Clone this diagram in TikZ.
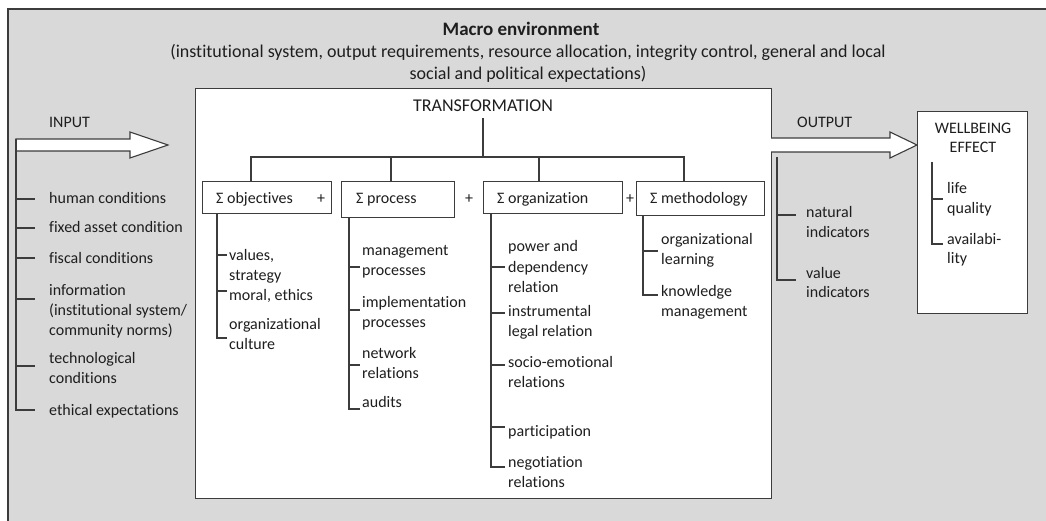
\documentclass[tikz,border=0pt]{standalone}
\usepackage{fontspec}
\setmainfont{Carlito}[Ligatures=NoCommon]
\definecolor{bg}{RGB}{217,217,217}
\definecolor{lc}{RGB}{60,60,60}
\definecolor{tc}{RGB}{30,30,30}
\begin{document}
\begin{tikzpicture}[x=1pt,y=-1pt,
  ln/.style={draw=lc, line width=1.1pt},
  txt/.style={anchor=base west, inner sep=0pt, align=left, font=\fontsize{16}{20}\selectfont, text=tc},
  ctxt/.style={inner sep=0pt, align=center, font=\fontsize{16}{20}\selectfont, text=tc},
  bx/.style={draw=lc, line width=1.1pt, fill=white, anchor=north west, inner sep=0pt},
  barrow/.style={draw=lc, line width=1.1pt, fill=white}]
\useasboundingbox (0,0) rectangle (1046,521);
\clip (0,0) rectangle (1046,521);
\fill[white] (0,0) rectangle (1046,521);
% macro environment
\node[draw=lc, line width=1.6pt, fill=bg, anchor=north west, minimum width=1060pt, minimum height=540pt, inner sep=0pt] (env) at (7,8) {};
\node[inner sep=0pt, font=\bfseries\fontsize{19}{23}\selectfont, text=tc] (title) at (521,29) {Macro environment};
\node[ctxt, font=\fontsize{18}{22}\selectfont] (sub) at (528,63) {(institutional system, output requirements, resource allocation, integrity control, general and local\\social and political expectations)};
% transformation
\node[bx, minimum width=576pt, minimum height=410pt] (tr) at (195,88) {};
\node[ctxt, font=\fontsize{18}{20}\selectfont] (trt) at (483,106) {TRANSFORMATION};
% boxes
\node[bx, minimum width=129pt, minimum height=32pt] (obj) at (202,181) {};
\node[bx, minimum width=113pt, minimum height=36pt] (proc) at (341,181) {};
\node[bx, minimum width=139pt, minimum height=32pt] (org) at (483,181) {};
\node[bx, minimum width=128pt, minimum height=34pt] (meth) at (636,181) {};
\node[txt] (objt) at (216,204) {Σ objectives};
\node[txt] (plus1) at (317,204) {+};
\node[txt] (proct) at (356,204) {Σ process};
\node[txt] (plus2) at (465,204) {+};
\node[txt] (orgt) at (497,204) {Σ organization};
\node[txt] (plus3) at (626,204) {+};
\node[txt] (metht) at (650,204) {Σ methodology};
\coordinate (bar) at (483,157);
\draw[ln] (trt.south) ++(0,6) -- (bar);
\draw[ln] ([xshift=49pt]obj.north west) |- (bar) -| ([xshift=48pt]meth.north west);
\draw[ln] ([xshift=50pt]proc.north west) -- ([xshift=50pt]proc.north west |- bar);
\draw[ln] ([xshift=56pt]org.north west) -- ([xshift=56pt]org.north west |- bar);
% objectives list
\node[txt] (o1) at (229,280) {values,\\strategy};
\node[txt] (o2) at (229,300) {moral, ethics};
\node[txt] (o3) at (229,349) {organizational\\culture};
\coordinate (oT) at ([xshift=15pt]obj.south west);
\draw[ln] (oT) -- (oT |- 0,338) -- ++(10,0);
\draw[ln] (oT |- 0,255) -- ++(10,0);
\draw[ln] (oT |- 0,291) -- ++(10,0);
% process list
\node[txt] (p1) at (362,276) {management\\processes};
\node[txt] (p2) at (362,327) {implementation\\processes};
\node[txt] (p3) at (362,378) {network\\relations};
\node[txt] (p4) at (362,407) {audits};
\coordinate (pT) at ([xshift=8pt]proc.south west);
\draw[ln] (pT) -- (pT |- 0,409) -- ++(11,0);
\draw[ln] (pT |- 0,267) -- ++(11,0);
\draw[ln] (pT |- 0,310) -- ++(11,0);
\draw[ln] (pT |- 0,365) -- ++(11,0);
% organization list
\node[txt] (g1) at (508,292) {power and\\dependency\\relation};
\node[txt] (g2) at (508,336) {instrumental\\legal relation};
\node[txt] (g3) at (508,387) {socio-emotional\\relations};
\node[txt] (g4) at (508,436) {participation};
\node[txt] (g5) at (508,487) {negotiation\\relations};
\coordinate (gT) at ([xshift=8pt]org.south west);
\draw[ln] (gT) -- (gT |- 0,467) -- ++(14,0);
\draw[ln] (gT |- 0,267) -- ++(14,0);
\draw[ln] (gT |- 0,313) -- ++(14,0);
\draw[ln] (gT |- 0,365) -- ++(14,0);
\draw[ln] (gT |- 0,427) -- ++(14,0);
% methodology list
\node[txt] (m1) at (661,265) {organizational\\learning};
\node[txt] (m2) at (661,316) {knowledge\\management};
\coordinate (mT) at ([xshift=7pt]meth.south west);
\draw[ln] (mT) -- (mT |- 0,295) -- ++(15,0);
\draw[ln] (mT |- 0,251) -- ++(15,0);
% input
\node[txt] (inl) at (49,128) {INPUT};
\draw[barrow] (16,139) coordinate (inA) -- (130,139) -- (130,132) -- (168,145) coordinate (inTip) -- (130,158) -- (130,151) -- (16,151) coordinate (inB) -- cycle;
\node[txt] (i1) at (49,204) {human conditions};
\node[txt] (i2) at (49,233) {fixed asset condition};
\node[txt] (i3) at (49,263) {fiscal conditions};
\node[txt] (i4) at (49,335) {information\\(institutional system/\\community norms)};
\node[txt] (i5) at (49,383) {technological\\conditions};
\node[txt] (i6) at (49,415) {ethical expectations};
\draw[ln] (inA) -- (inA |- 0,410) -- ++(19,0);
\foreach \yy in {199,228,258,299,366} \draw[ln] (inA |- 0,\yy) -- ++(19,0);
% output
\node[txt] (outl) at (797,128) {OUTPUT};
\draw[barrow] (771,138) coordinate (outA) -- (890,138) -- (890,132) -- (917,145) coordinate (outTip) -- (890,158) -- (890,152) -- (771,152) coordinate (outB);
\node[txt] (u1) at (806,238) {natural\\indicators};
\node[txt] (u2) at (806,298) {value\\indicators};
\coordinate (uT) at (777,157);
\draw[ln] (uT) -- (uT |- 0,280) -- ++(19,0);
\draw[ln] (uT |- 0,215) -- ++(19,0);
% wellbeing
\node[bx, minimum width=110pt, minimum height=202pt] (wb) at (917,111) {};
\node[ctxt, font=\fontsize{16}{19}\selectfont] (wbt) at (973,138) {WELLBEING\\EFFECT};
\node[txt] (w1) at (947,214) {life\\quality};
\node[txt] (w2) at (947,264) {availabi-\\lity};
\coordinate (wT) at (932,162);
\draw[ln] (wT) -- (wT |- 0,244) -- ++(11,0);
\draw[ln] (wT |- 0,199) -- ++(11,0);
\end{tikzpicture}
\end{document}
